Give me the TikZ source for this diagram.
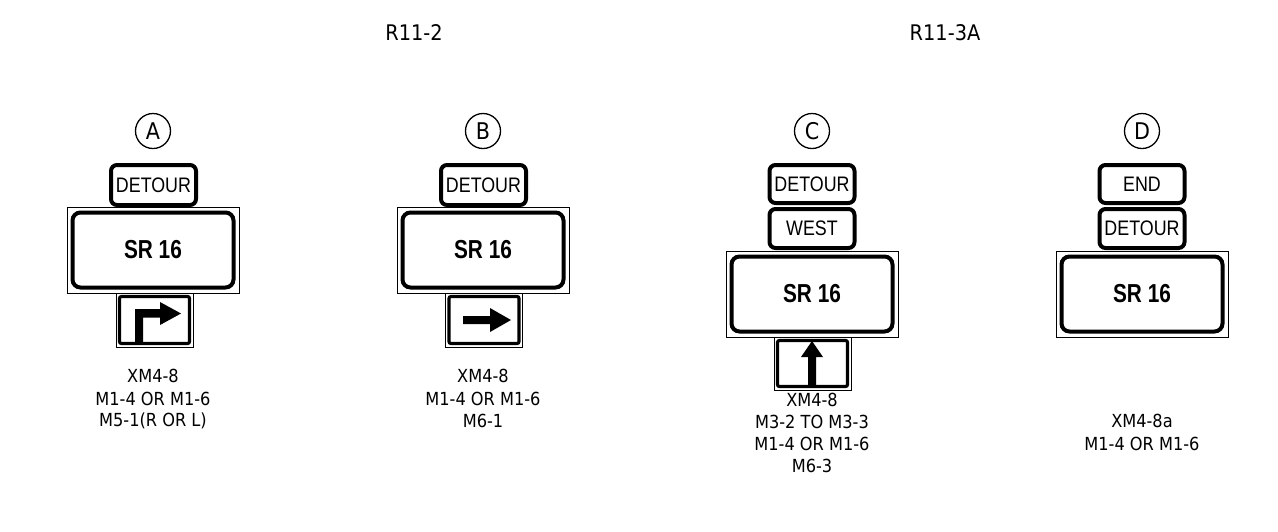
\documentclass[tikz,border=0pt]{standalone}
\usepackage{fontspec}
\setmainfont{DejaVu Sans Condensed}
\newfontfamily\signfont[FakeStretch=0.85]{Liberation Sans}
\newfontfamily\signboldfont[FakeStretch=0.8]{Liberation Sans Bold}
\begin{document}
\begin{tikzpicture}[x=1pt,y=-1pt,
  title/.style={font=\fontsize{21.5}{24}\selectfont, inner sep=0pt},
  lbl/.style={font=\fontsize{18}{20}\selectfont, inner sep=0pt},
  letter/.style={draw, circle, line width=1.3pt, minimum size=35pt, inner sep=0pt, font=\fontsize{23}{24}\selectfont},
  smallbox/.style={draw, line width=4pt, rounded corners=6pt, minimum width=85pt, inner sep=0pt, font=\signfont\fontsize{21}{24}\selectfont},
  bigsign/.style={draw, line width=0.9pt, minimum width=172pt, minimum height=86pt, inner sep=0pt,
    font=\signboldfont\fontsize{26}{28}\selectfont,
    path picture={\draw[line width=4pt, rounded corners=8pt]
      ([xshift=5.5pt,yshift=-5.5pt]path picture bounding box.north west) rectangle
      ([xshift=-5.5pt,yshift=5.5pt]path picture bounding box.south east);}},
  arrowpanel/.style={draw, line width=0.9pt, minimum width=77pt, minimum height=54pt, inner sep=0pt,
    path picture={\draw[line width=3.2pt, rounded corners=2pt]
      ([xshift=3.5pt,yshift=-3.5pt]path picture bounding box.north west) rectangle
      ([xshift=-3.5pt,yshift=3.5pt]path picture bounding box.south east);}},
  arrowfill/.style={fill=black}
]
\useasboundingbox (0,0) rectangle (1278,531);

% titles
\node[title] (t1) at (414,33) {R11-2};
\node[title] (t2) at (945,33) {R11-3A};

% ---------- A ----------
\node[letter] (cA) at (153,131) {A};
\node[smallbox, minimum height=40pt] (dA) at (153.5,185) {DETOUR};
\node[bigsign] (sA) at (153,250) {SR 16};
\node[arrowpanel] (pA) at (154.5,320) {};
\fill[arrowfill] (135,343) -- (135,309) -- (160,309) -- (160,302) -- (181,313.5) -- (160,325) -- (160,317.5) -- (143,317.5) -- (143,343) -- cycle;
\node[lbl] (lA1) at (153,376) {XM4-8};
\node[lbl] (lA2) at (153,398.5) {M1-4 OR M1-6};
\node[lbl] (lA3) at (153,421) {M5-1(R OR L)};

% ---------- B ----------
\node[letter] (cB) at (483,131) {B};
\node[smallbox, minimum height=40pt] (dB) at (483.5,185) {DETOUR};
\node[bigsign] (sB) at (483,250) {SR 16};
\node[arrowpanel] (pB) at (484,320) {};
\fill[arrowfill] (463,316) -- (490,316) -- (490,308) -- (511,320) -- (490,332) -- (490,324) -- (463,324) -- cycle;
\node[lbl] (lB1) at (483,376) {XM4-8};
\node[lbl] (lB2) at (483,398.5) {M1-4 OR M1-6};
\node[lbl] (lB3) at (483,421) {M6-1};

% ---------- C ----------
\node[letter] (cC) at (812,131) {C};
\node[smallbox, minimum height=38pt] (dC) at (812,184) {DETOUR};
\node[smallbox, minimum height=39pt] (wC) at (812,228.5) {WEST};
\node[bigsign] (sC) at (812,294) {SR 16};
\node[arrowpanel, minimum height=53pt] (pC) at (812.5,363.5) {};
\fill[arrowfill] (808,385) -- (808,357) -- (801,357) -- (812,341) -- (823,357) -- (816,357) -- (816,385) -- cycle;
\node[lbl] (lC1) at (812,399.5) {XM4-8};
\node[lbl] (lC2) at (812,421.5) {M3-2 TO M3-3};
\node[lbl] (lC3) at (812,443.5) {M1-4 OR M1-6};
\node[lbl] (lC4) at (812,466) {M6-3};

% ---------- D ----------
\node[letter] (cD) at (1142,131) {D};
\node[smallbox, minimum height=38pt] (eD) at (1142,184) {END};
\node[smallbox, minimum height=39pt] (dD) at (1142,228.5) {DETOUR};
\node[bigsign] (sD) at (1142,294) {SR 16};
\node[lbl] (lD1) at (1142,421) {XM4-8a};
\node[lbl] (lD2) at (1142,443.5) {M1-4 OR M1-6};
\end{tikzpicture}
\end{document}
